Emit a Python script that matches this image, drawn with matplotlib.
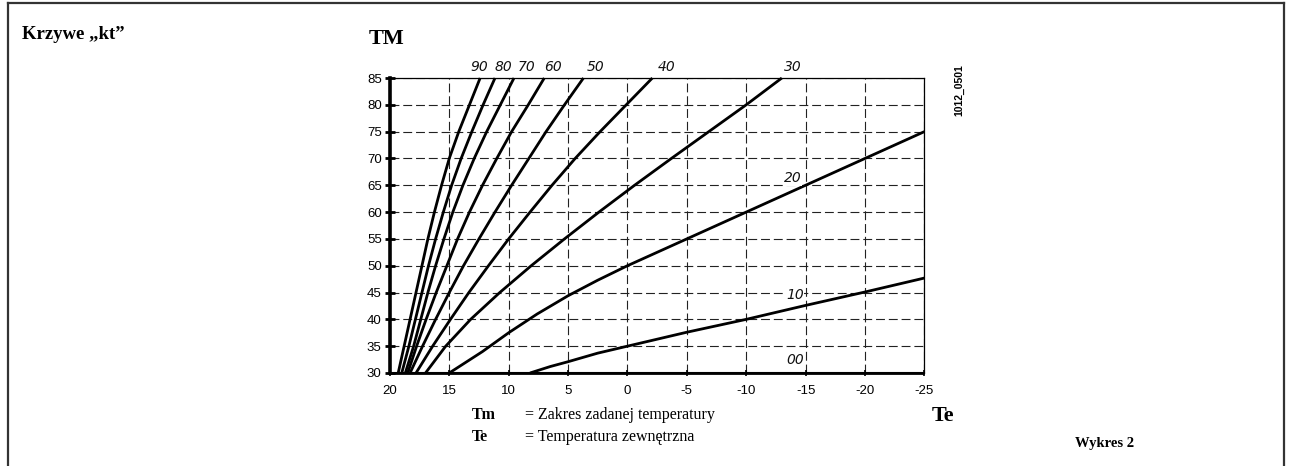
import matplotlib
matplotlib.use("Agg")
import matplotlib.pyplot as plt
from matplotlib.lines import Line2D

# Krzywe grzewcze "kt": Te (temperatura zewnetrzna) dla kolejnych poziomow TM
tm_steps = [30, 35, 40, 45, 50, 55, 60, 65, 70, 75, 80, 85]
te_kt90 = [19.3, 18.8, 18.3, 17.8, 17.3, 16.8, 16.25, 15.65, 15.0, 14.2, 13.3, 12.4]
te_kt80 = [19.0, 18.4, 17.85, 17.3, 16.75, 16.15, 15.5, 14.8, 14.0, 13.1, 12.15, 11.15]
te_kt70 = [18.7, 18.0, 17.4, 16.8, 16.15, 15.45, 14.7, 13.85, 12.9, 11.85, 10.7, 9.55]
te_kt60 = [18.5, 17.75, 16.95, 16.1, 15.2, 14.3, 13.3, 12.2, 11.0, 9.75, 8.35, 7.0]
te_kt50 = [18.3, 17.25, 16.15, 15.0, 13.8, 12.5, 11.15, 9.75, 8.3, 6.85, 5.3, 3.7]
te_kt40 = [17.8, 16.4, 14.9, 13.35, 11.7, 10.0, 8.2, 6.35, 4.4, 2.3, 0.1, -2.1]
te_kt30 = [17.0, 15.3, 13.2, 10.75, 8.1, 5.3, 2.4, -0.6, -3.7, -6.85, -10.0, -13.0]

te_kt20 = [15, 13.6, 12.2, 10, 7.6, 5, 2.5, 0, -5, -10, -15, -20, -25]
tm_kt20 = [30, 32, 34, 37.5, 41, 44.4, 47.3, 50, 55, 60, 65, 70, 75]
te_kt10 = [8.2, 6.5, 5, 2.5, 0, -5, -10, -15, -20, -25]
tm_kt10 = [30, 31.2, 32.1, 33.7, 35, 37.6, 40, 42.6, 45.1, 47.7]
te_kt00 = [20, -25]
tm_kt00 = [30, 30]

kt_names = ["90", "80", "70", "60", "50", "40", "30", "20", "10", "00"]
x_ticks = [20, 15, 10, 5, 0, -5, -10, -15, -20, -25]
y_ticks = [30, 35, 40, 45, 50, 55, 60, 65, 70, 75, 80, 85]

curves = [
    (te_kt90, tm_steps), (te_kt80, tm_steps), (te_kt70, tm_steps),
    (te_kt60, tm_steps), (te_kt50, tm_steps), (te_kt40, tm_steps),
    (te_kt30, tm_steps), (te_kt20, tm_kt20), (te_kt10, tm_kt10),
    (te_kt00, tm_kt00),
]
# miejsca opisow krzywych (Te, TM)
label_pos = [(12.5, 87.1), (10.4, 87.1), (8.5, 87.1), (6.3, 87.1), (2.7, 87.1),
             (-3.3, 87.1), (-13.9, 87.1), (-13.9, 66.3), (-14.1, 44.5), (-14.1, 32.4)]

fig = plt.figure(figsize=(12.91, 4.66), dpi=100)
ax = fig.add_axes([0.302, 0.1996, 0.414, 0.633])

for te, tm in curves:
    ax.plot(te, tm, color="black", lw=2.0, solid_capstyle="butt", solid_joinstyle="round",
            clip_on=False, zorder=3)

for name, (x, y) in zip(kt_names, label_pos):
    ax.text(x, y, name, ha="center", va="center", fontsize=10, style="italic",
            family="DejaVu Sans", color="#111111", zorder=4,
            bbox=dict(facecolor="white", edgecolor="none", pad=0.5) if name in ("20", "10", "00") else None)

ax.set_xlim(20, -25)
ax.set_ylim(30, 85)
ax.set_xticks(x_ticks)
ax.set_yticks(y_ticks)
ax.set_xticklabels([str(v) for v in x_ticks], family="Liberation Sans", fontsize=9.5)
ax.set_yticklabels([str(v) for v in y_ticks], family="Liberation Sans", fontsize=9.5)
ax.tick_params(axis="y", direction="inout", length=7, width=2, pad=2.4, color="black")
ax.tick_params(axis="x", direction="inout", length=4, width=1.2, pad=7, color="black")
ax.grid(True, color="#222222", lw=0.8, linestyle=(0, (8, 3.5)))
ax.set_axisbelow(True)

ax.spines["left"].set_linewidth(2.6)
ax.spines["bottom"].set_linewidth(1.5)
ax.spines["top"].set_linewidth(0.9)
ax.spines["right"].set_linewidth(0.9)

serif = "Liberation Serif"
fig.text(0.017, 0.916, "Krzywe \u201ekt\u201d", family=serif, weight="bold", fontsize=13.5, ha="left", va="baseline")
fig.text(0.2998, 0.9056, "TM", family=serif, weight="bold", fontsize=16, ha="center", va="baseline")
fig.text(0.7305, 0.0966, "Te", family=serif, weight="bold", fontsize=16, ha="center", va="baseline")
fig.text(0.3654, 0.1009, "Tm", family=serif, weight="bold", fontsize=11.5, ha="left", va="baseline")
fig.text(0.4067, 0.1009, "= Zakres zadanej temperatury", family=serif, fontsize=11.5, ha="left", va="baseline")
fig.text(0.3654, 0.0543, "Te", family=serif, weight="bold", fontsize=11.5, ha="left", va="baseline")
fig.text(0.4067, 0.0543, "= Temperatura zewnętrzna", family=serif, fontsize=11.5, ha="left", va="baseline")
fig.text(0.8327, 0.0408, "Wykres 2", family=serif, weight="bold", fontsize=10.5, ha="left", va="baseline")
fig.text(0.7428, 0.8069, "1012_0501", family="Liberation Sans", weight="bold", fontsize=7.5,
         rotation=90, ha="center", va="center")

# ramka
for xs, ys in [([0.0062, 0.0062], [0, 0.9936]), ([0.0062, 0.9946], [0.9936, 0.9936]),
               ([0.9946, 0.9946], [0.9936, 0])]:
    fig.add_artist(Line2D(xs, ys, color="#333333", lw=1.6, transform=fig.transFigure))

fig.savefig("out.png", dpi=100)
